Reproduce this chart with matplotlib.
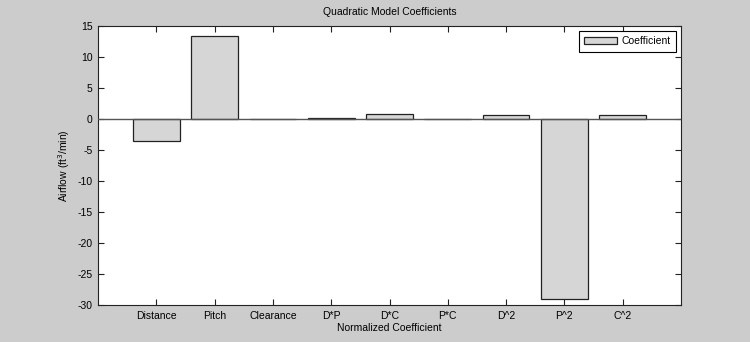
import matplotlib
matplotlib.use("Agg")
import matplotlib.pyplot as plt

categories = ["Distance", "Pitch", "Clearance", "D*P", "D*C", "P*C", "D^2", "P^2", "C^2"]
coefficients = [-3.5, 13.4, 0.0, 0.2, 0.8, 0.0, 0.7, -29.1, 0.7]

plt.rcParams["font.family"] = ["Liberation Sans", "DejaVu Sans"]
plt.rcParams["font.size"] = 7.5
plt.rcParams["axes.unicode_minus"] = False

fig = plt.figure(figsize=(7.5, 3.42), dpi=100, facecolor="#cccccc")
ax = fig.add_axes([0.1307, 0.108, 0.7773, 0.816])

x = list(range(1, len(categories) + 1))
ax.bar(x, coefficients, width=0.8, color="#d6d6d6", edgecolor="#222222",
       linewidth=0.9, label="Coefficient", zorder=2)
ax.axhline(0, color="#555555", linewidth=1.0, zorder=3)

ax.set_xlim(0, 10)
ax.set_ylim(-30, 15)
ax.set_xticks(x)
ax.set_xticklabels(categories)
ax.set_yticks(range(-30, 16, 5))
ax.tick_params(direction="in", top=True, right=True, length=4, width=0.8,
               colors="#222222", labelcolor="black", pad=4)
for s in ax.spines.values():
    s.set_color("#222222")
    s.set_linewidth(0.8)

ax.set_title("Quadratic Model Coefficients", fontsize=7.5, pad=8)
ax.set_xlabel("Normalized Coefficient", labelpad=2)
ax.set_ylabel("Airflow (ft$^3$/min)", labelpad=4)

leg = ax.legend(loc="upper right", fancybox=False, framealpha=1,
                edgecolor="black", borderaxespad=0.5, handlelength=3.2,
                handletextpad=0.4, borderpad=0.5)
leg.get_frame().set_linewidth(0.8)

fig.savefig("out.png", dpi=100, facecolor=fig.get_facecolor())
